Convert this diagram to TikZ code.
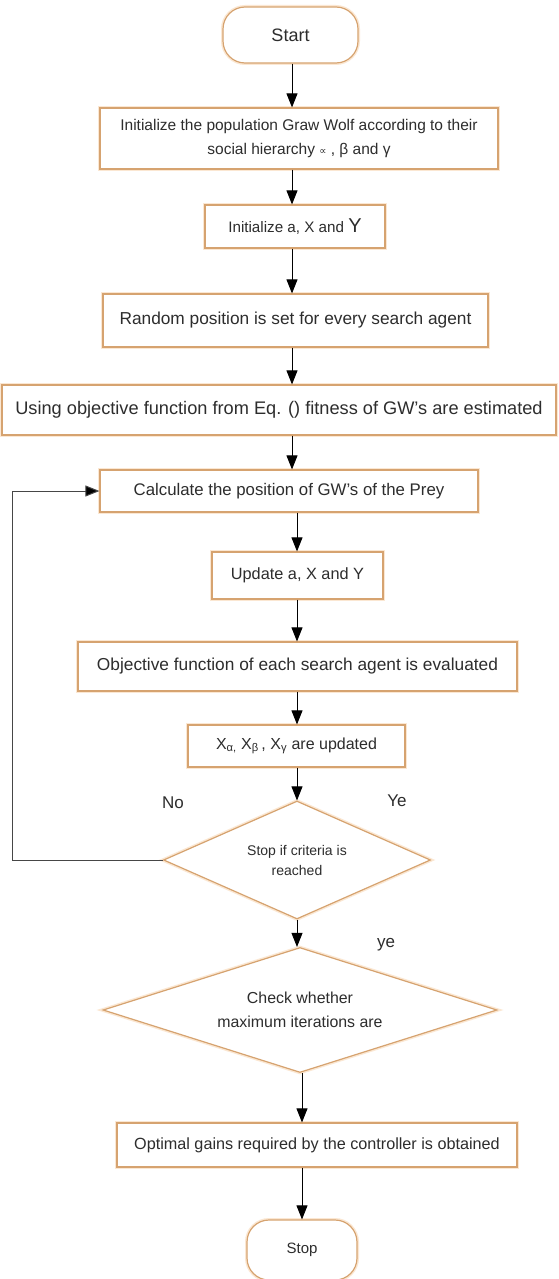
\documentclass[tikz,border=0pt]{standalone}
\usepackage{fontspec}
\setmainfont{Liberation Sans}
\newfontfamily\symfnt{DejaVu Sans}
\usetikzlibrary{arrows.meta,shapes.geometric}
\definecolor{boxc}{RGB}{214,163,112}
\definecolor{glowc}{RGB}{251,231,210}
\definecolor{txtc}{RGB}{45,45,45}
\definecolor{loopc}{RGB}{70,70,70}
\newcommand{\fsz}[2]{\fontsize{#1}{#2}\selectfont}
\begin{document}
\begin{tikzpicture}[x=1pt,y=-1pt,
  box/.style={draw=boxc, line width=1.2pt, preaction={draw=glowc, line width=4pt},
    fill=white, text=txtc, inner sep=0pt, align=center, rectangle},
  term/.style={box, rounded corners=22pt},
  dec/.style={box, diamond},
  arr/.style={draw=black, line width=0.9pt, -{Triangle[length=14pt,width=11pt]}},
  looparr/.style={draw=loopc, line width=1pt, -{Triangle[length=14pt,width=11pt,fill=black]}},
  lbl/.style={text=txtc, inner sep=0pt, font=\fsz{17}{20}}]
\useasboundingbox (0,0) rectangle (558,1279);
\fill[white] (0,0) rectangle (558,1279);

\node[term, minimum width=135pt, minimum height=56pt, font=\fsz{18}{22}] (start) at (290.5,35) {Start};
\node[box, minimum width=398pt, minimum height=61pt, font=\fsz{15.5}{24}] (b1) at (299,138.5)
  {Initialize the population Graw Wolf according to their\\social hierarchy {\symfnt\fontsize{10}{12}\selectfont ∝} , β and γ};
\node[box, minimum width=180pt, minimum height=43pt, font=\fsz{15.2}{20}] (b2) at (295,226.5)
  {Initialize a, X and {\fontsize{20}{20}\selectfont Y}};
\node[box, minimum width=385pt, minimum height=53pt, font=\fsz{17.3}{21}] (b3) at (295.5,320.5)
  {Random position is set for every search agent};
\node[box, minimum width=554pt, minimum height=50pt, font=\fsz{18.2}{22}] (b4) at (279,410)
  {Using objective function from Eq. () fitness of GW's are estimated};
\node[box, minimum width=378pt, minimum height=42pt, font=\fsz{16.8}{20}] (b5) at (289,491)
  {Calculate the position of GW's of the Prey};
\node[box, minimum width=171pt, minimum height=47pt, font=\fsz{16.3}{20}] (b6) at (297.5,575.5)
  {Update a, X and Y};
\node[box, minimum width=439pt, minimum height=49pt, font=\fsz{17.3}{21}] (b7) at (297.5,666.5)
  {Objective function of each search agent is evaluated};
\node[box, minimum width=217pt, minimum height=42pt, font=\fsz{16}{20}] (b8) at (296.5,746)
  {X\textsubscript{α,}\ X\textsubscript{β}\,,\ X\textsubscript{γ} are updated};
\node[dec, aspect=2.26, minimum width=267pt, minimum height=118pt, font=\fsz{14}{20}] (d1) at (297,860)
  {Stop if criteria is\\reached};
\node[dec, aspect=3.15, minimum width=394pt, minimum height=125pt, font=\fsz{15.9}{24}] (d2) at (300,1010)
  {Check whether\\maximum iterations are};
\node[box, minimum width=400pt, minimum height=44pt, font=\fsz{16.2}{20}] (b9) at (317,1145)
  {Optimal gains required by the controller is obtained};
\node[term, minimum width=110pt, minimum height=60pt, font=\fsz{15}{20}] (stop) at (302,1250) {Stop};

\node[lbl] (no) at (173,803) {No};
\node[lbl] (ye1) at (397,801) {Ye};
\node[lbl] (ye2) at (386,945) {ye};

\draw[arr] (start.south -| 292,0) -- (b1.north -| 292,0);
\draw[arr] (b1.south -| 292,0) -- (b2.north -| 292,0);
\draw[arr] (b2.south -| 292,0) -- (b3.north -| 292,0);
\draw[arr] (b3.south -| 292,0) -- (b4.north -| 292,0);
\draw[arr] (b4.south -| 292,0) -- (b5.north -| 292,0);
\draw[arr] (b5.south -| 297,0) -- (b6.north -| 297,0);
\draw[arr] (b6.south -| 297,0) -- (b7.north -| 297,0);
\draw[arr] (b7.south -| 297,0) -- (b8.north -| 297,0);
\draw[arr] (b8.south -| 297,0) -- (d1.north);
\draw[arr] (d1.south) -- (d2.north -| d1.south);
\draw[arr] (d2.south -| 302,0) -- (b9.north -| 302,0);
\draw[arr] (b9.south -| 302,0) -- (stop.north -| 302,0);

\coordinate (lc) at (12,0);
\draw[looparr] (d1.west) -- (d1.west -| lc) |- (b5.west);
\end{tikzpicture}
\end{document}
